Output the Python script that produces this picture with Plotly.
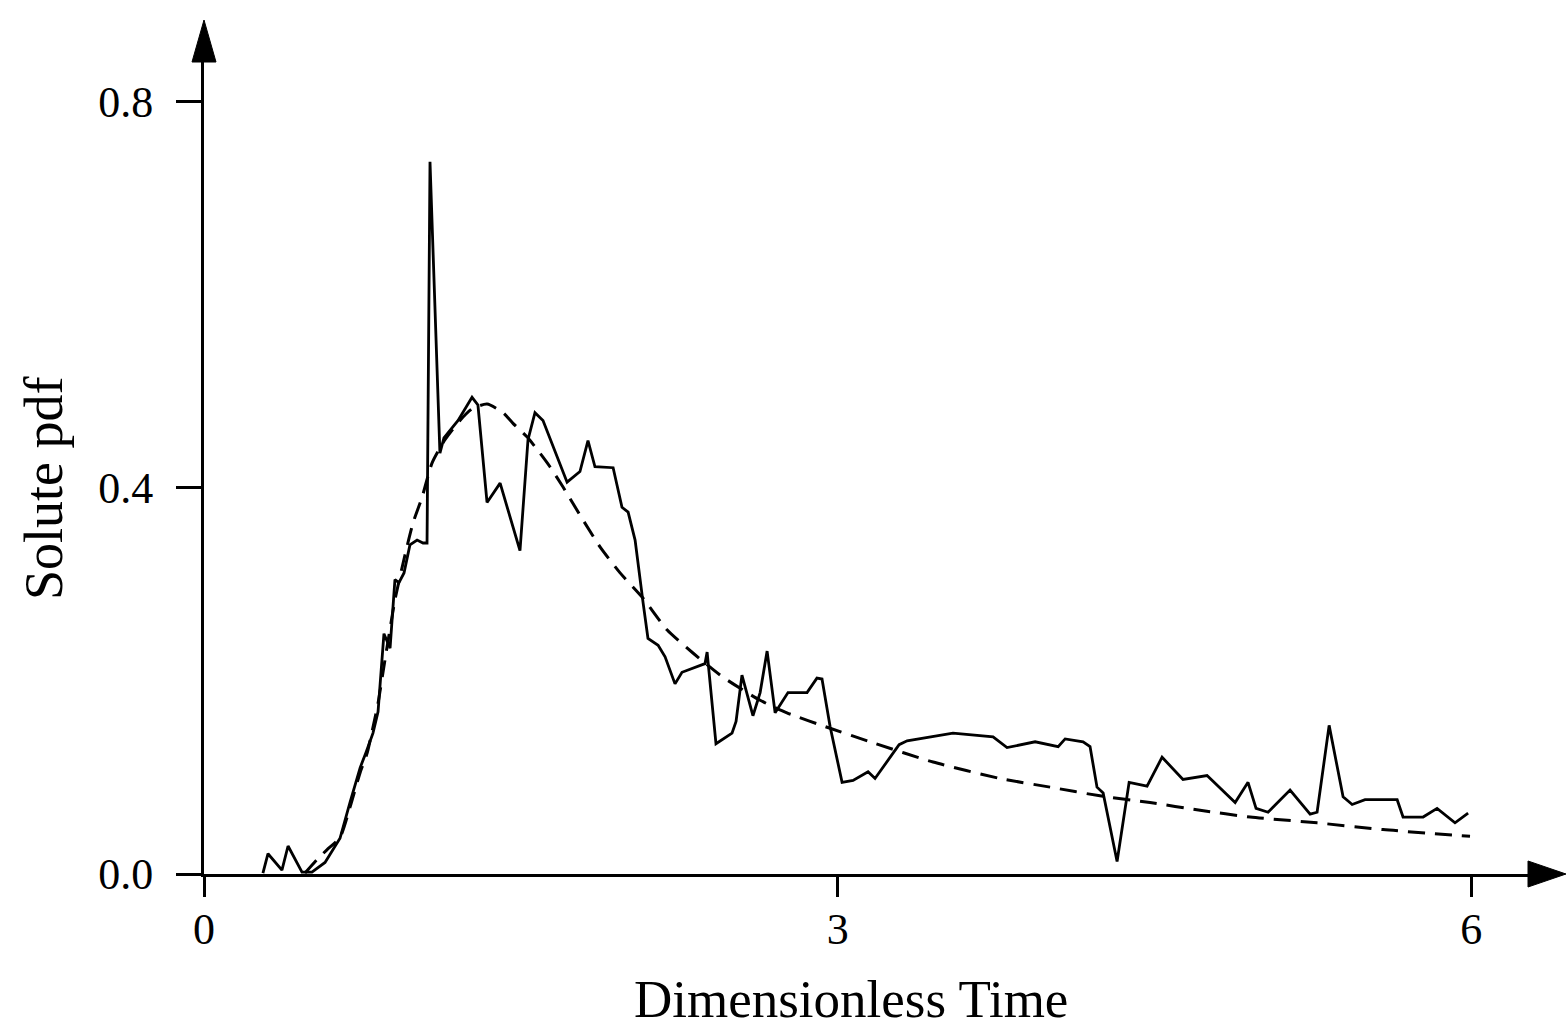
import plotly.graph_objects as go

# ---- data ----
sim_time = [0.279, 0.303, 0.369, 0.398, 0.464, 0.511, 0.573, 0.644, 0.691, 0.739,
            0.767, 0.800, 0.824, 0.848, 0.852, 0.881, 0.904, 0.923, 0.947, 0.975,
            1.009, 1.037, 1.056, 1.070, 1.117, 1.136, 1.203, 1.269, 1.297, 1.340,
            1.402, 1.496, 1.534, 1.567, 1.605, 1.719, 1.780, 1.818, 1.851, 1.937,
            1.979, 2.008, 2.041, 2.079, 2.102, 2.150, 2.183, 2.230, 2.263, 2.372,
            2.382, 2.424, 2.500, 2.519, 2.547, 2.599, 2.633, 2.666, 2.704, 2.765,
            2.855, 2.902, 2.926, 2.964, 3.021, 3.073, 3.144, 3.177, 3.291, 3.329,
            3.546, 3.736, 3.802, 3.935, 4.044, 4.077, 4.162, 4.195, 4.228, 4.257,
            4.323, 4.380, 4.465, 4.536, 4.635, 4.749, 4.882, 4.943, 4.981, 5.038,
            5.142, 5.237, 5.270, 5.327, 5.393, 5.436, 5.497, 5.649, 5.677, 5.772,
            5.838, 5.923, 5.985]
sim_pdf = [0.001, 0.021, 0.004, 0.029, 0.002, 0.002, 0.012, 0.037, 0.074, 0.110,
           0.126, 0.146, 0.168, 0.237, 0.249, 0.234, 0.305, 0.302, 0.312, 0.341,
           0.346, 0.343, 0.343, 0.738, 0.436, 0.452, 0.470, 0.494, 0.486, 0.385,
           0.405, 0.335, 0.450, 0.478, 0.470, 0.406, 0.417, 0.449, 0.422, 0.421,
           0.380, 0.375, 0.346, 0.281, 0.244, 0.237, 0.225, 0.197, 0.209, 0.218,
           0.230, 0.135, 0.146, 0.158, 0.206, 0.164, 0.188, 0.231, 0.167, 0.188,
           0.188, 0.203, 0.202, 0.153, 0.095, 0.097, 0.106, 0.099, 0.134, 0.138,
           0.146, 0.142, 0.131, 0.137, 0.132, 0.140, 0.137, 0.132, 0.090, 0.084,
           0.013, 0.095, 0.091, 0.121, 0.098, 0.102, 0.074, 0.095, 0.068, 0.064,
           0.087, 0.062, 0.064, 0.154, 0.080, 0.072, 0.077, 0.077, 0.059, 0.059,
           0.068, 0.053, 0.063]

fit_time = [0.478, 0.535, 0.582, 0.644, 0.691, 0.739, 0.772, 0.800, 0.824, 0.857,
            0.904, 0.952, 0.990, 1.032, 1.080, 1.141, 1.212, 1.269, 1.340, 1.416,
            1.463, 1.529, 1.591, 1.638, 1.700, 1.780, 1.875, 1.970, 2.074, 2.192,
            2.315, 2.457, 2.633, 2.760, 2.964, 3.168, 3.452, 3.769, 4.006, 4.242,
            4.479, 4.716, 4.953, 5.270, 5.582, 5.994]
fit_pdf = [0.001, 0.015, 0.025, 0.038, 0.069, 0.105, 0.125, 0.152, 0.177, 0.222,
           0.284, 0.331, 0.364, 0.390, 0.426, 0.450, 0.470, 0.482, 0.487, 0.478,
           0.467, 0.453, 0.436, 0.422, 0.401, 0.372, 0.339, 0.312, 0.287, 0.253,
           0.229, 0.204, 0.180, 0.167, 0.151, 0.136, 0.116, 0.099, 0.090, 0.081,
           0.074, 0.066, 0.059, 0.053, 0.046, 0.039]

x_ticks = [0, 3, 6]
x_tick_labels = ["0", "3", "6"]
y_ticks = [0.0, 0.4, 0.8]
y_tick_labels = ["0.0", "0.4", "0.8"]
x_title = "Dimensionless Time"
y_title = "Solute pdf"

# ---- layout geometry (pixels) ----
W, H = 1566, 1032
L, R, T, B = 204, 1530, 60, 874          # plot area edges
X_RANGE = [0, 6.278]
Y_RANGE = [0, 0.8435]
FONT = "Liberation Serif, Times New Roman, serif"

def px(xp):
    return (xp - L) / (R - L)

def py(yp):
    return (B - yp) / (B - T)

fig = go.Figure()
fig.add_trace(go.Scatter(x=fit_time, y=fit_pdf, mode="lines",
                         line=dict(color="black", width=3, dash="17px,10px", shape="spline", smoothing=0.6),
                         showlegend=False, hoverinfo="skip"))
fig.add_trace(go.Scatter(x=sim_time, y=sim_pdf, mode="lines",
                         line=dict(color="black", width=2.8),
                         showlegend=False))

shapes = [
    # up arrow head on the y axis
    dict(type="path", xref="paper", yref="paper",
         path=f"M {px(L-12)},{py(T+2)} L {px(L)},{py(20)} L {px(L+12)},{py(T+2)} Z",
         fillcolor="black", line=dict(color="black", width=1)),
    # right arrow head on the x axis
    dict(type="path", xref="paper", yref="paper",
         path=f"M {px(R-2)},{py(B-13)} L {px(1566)},{py(B)} L {px(R-2)},{py(B+13)} Z",
         fillcolor="black", line=dict(color="black", width=1)),
]

annotations = [
    dict(text=x_title, xref="paper", yref="paper", x=px(851), y=py(1030),
         xanchor="center", yanchor="bottom", showarrow=False,
         font=dict(family=FONT, size=53, color="black")),
    dict(text=y_title, xref="paper", yref="paper", x=px(44), y=py(488),
         xanchor="center", yanchor="middle", showarrow=False, textangle=-90,
         font=dict(family=FONT, size=54, color="black")),
]

fig.update_layout(
    width=W, height=H,
    margin=dict(l=L, r=W - R, t=T, b=H - B, autoexpand=False),
    paper_bgcolor="white", plot_bgcolor="white",
    shapes=shapes, annotations=annotations,
    font=dict(family=FONT, color="black"),
    xaxis=dict(range=X_RANGE, showgrid=False, zeroline=False, automargin=False,
               showline=True, linecolor="black", linewidth=3,
               ticks="outside", ticklen=20, tickwidth=2.5, tickcolor="black",
               tickvals=x_ticks, ticktext=x_tick_labels,
               tickfont=dict(family=FONT, size=44, color="black"),
               ticklabelstandoff=-6),
    yaxis=dict(range=Y_RANGE, showgrid=False, zeroline=False, automargin=False,
               showline=True, linecolor="black", linewidth=3,
               ticks="outside", ticklen=25, tickwidth=2.5, tickcolor="black",
               tickvals=y_ticks, ticktext=y_tick_labels,
               tickfont=dict(family=FONT, size=44, color="black"),
               ticklabelstandoff=14),
)

fig.write_html("out.html")
